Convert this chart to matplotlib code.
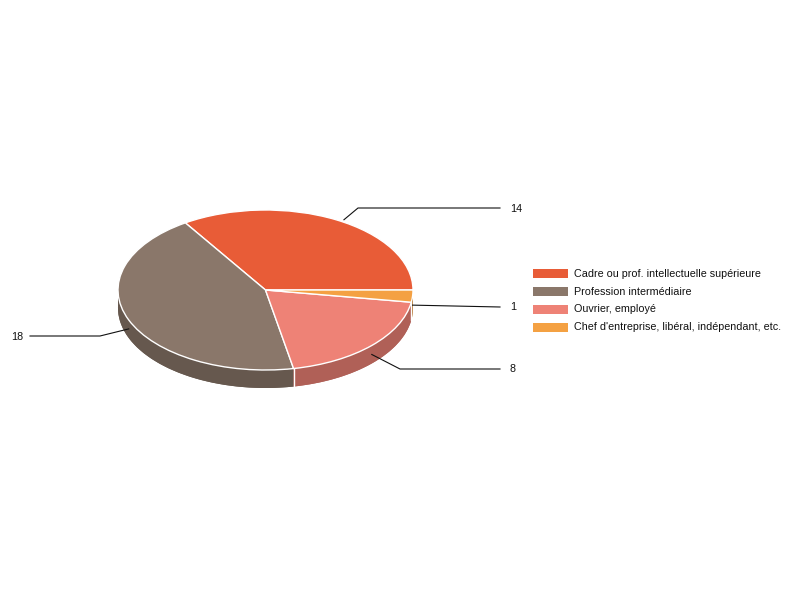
import numpy as np
import matplotlib
matplotlib.use("Agg")
import matplotlib.pyplot as plt
from matplotlib.patches import Rectangle, Polygon
from matplotlib.colors import to_rgb

categories = ["Cadre ou prof. intellectuelle supérieure", "Profession intermédiaire",
              "Ouvrier, employé", "Chef d'entreprise, libéral, indépendant, etc."]
values = [14, 18, 8, 1]
colors = ["#e85c37", "#8a776a", "#ee8276", "#f4a143"]

plt.rcParams['font.family'] = ['Liberation Sans', 'DejaVu Sans']
W, H = 800, 600
fig = plt.figure(figsize=(8, 6), dpi=100)
fig.patch.set_facecolor("white")

# ellipse geometry in pixels
cx, cy, rx, ry, depth = 265.5, 290.0, 147.5, 80.0, 18.0
d = depth / ry
axp = fig.add_axes([(cx - rx) / W, (H - (cy + ry + depth)) / H, 2 * rx / W, (2 * ry + depth) / H])
axp.set_xlim(-1, 1)
axp.set_ylim(-1 - d, 1)
axp.axis("off")

side_cols = [tuple(c * 0.74 for c in to_rgb(col)) for col in colors]
# bottom pie
axp.pie(values, colors=side_cols, startangle=0, counterclock=True, center=(0, -d), radius=1,
        wedgeprops=dict(linewidth=0))
axp.set_aspect("auto")
total = sum(values)
angles = np.cumsum([0] + values) / total * 360
# side walls
for i in range(len(values)):
    a0, a1 = angles[i], angles[i + 1]
    lo, hi = max(a0, 180), min(a1, 360)
    if hi > lo:
        t = np.radians(np.linspace(lo, hi, 100))
        xs = np.cos(t); ys = np.sin(t)
        pts = np.concatenate([np.column_stack([xs, ys]), np.column_stack([xs[::-1], ys[::-1] - d])])
        axp.add_patch(Polygon(pts, closed=True, facecolor=side_cols[i], edgecolor="none", zorder=2))
for a in angles:
    if 180 < a < 360:
        r = np.radians(a)
        axp.plot([np.cos(r), np.cos(r)], [np.sin(r), np.sin(r) - d], color="white", lw=1, zorder=3)
# top pie
wedges, _ = axp.pie(values, colors=colors, startangle=0, counterclock=True, radius=1,
                    wedgeprops=dict(edgecolor="white", linewidth=1))
for w in wedges:
    w.set_zorder(4)
axp.set_aspect("auto")
axp.set_xlim(-1, 1)
axp.set_ylim(-1 - d, 1)

# overlay for labels and legend
ax = fig.add_axes([0, 0, 1, 1])
ax.set_xlim(0, W)
ax.set_ylim(H, 0)
ax.axis("off")

fs = 7.75
# leader lines
mids = (angles[:-1] + angles[1:]) / 2
elbows = [[(358, 208), (500, 208)], [(100, 336), (30, 336)], [(400, 369), (500, 369)], [(500, 307)]]
label_pos = [(510, 208.5, "left"), (23, 336.5, "right"), (510, 369.5, "left"), (510, 307.5, "left")]
for i, v in enumerate(values):
    r = np.radians(mids[i])
    ax0 = cx + rx * np.cos(r)
    ay0 = cy - ry * np.sin(r) + (depth / 2 if np.sin(r) < 0 else 0)
    if np.sin(r) > 0:
        ax0 += 8
    pts = [(ax0, ay0)] + elbows[i]
    ax.plot([p[0] for p in pts], [p[1] for p in pts], color="#111111", lw=0.8)
    lx, ly, ha = label_pos[i]
    ax.text(lx, ly, str(v), fontsize=fs, color="#111111", ha=ha, va="center")

# legend
ly0 = [273.8, 291.6, 309.4, 327.2]
for i, cat in enumerate(categories):
    ax.add_patch(Rectangle((533, ly0[i] - 4.6), 34.5, 9.2, facecolor=colors[i], edgecolor="none"))
    ax.text(573.5, ly0[i], cat, fontsize=fs, color="#111111", ha="left", va="center")

fig.savefig("out.png", dpi=100, facecolor="white")
